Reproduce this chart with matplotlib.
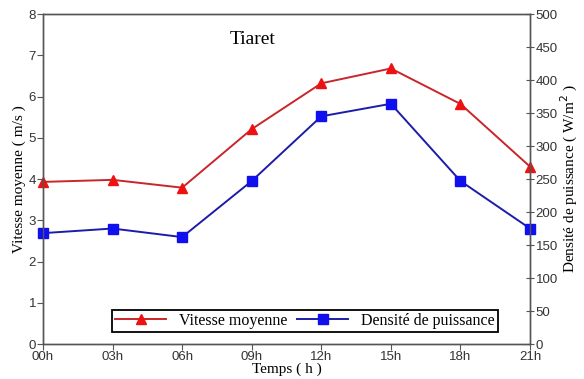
import numpy as np
import matplotlib
matplotlib.use('Agg')
import matplotlib.pyplot as plt

#%% data
heures = ['00h', '03h', '06h', '09h', '12h', '15h', '18h', '21h']
vitesse = [3.93, 3.98, 3.79, 5.21, 6.32, 6.68, 5.82, 4.30]       # m/s
densite = [168, 175, 162, 247, 345, 364, 247, 175]               # W/m2

serif = 'Liberation Serif'
sans = 'Liberation Sans'

#%% figure
fig = plt.figure(figsize=(5.84, 3.79), dpi=100)
ax = fig.add_axes([0.0736, 0.0923, 0.834, 0.8707])
ax2 = ax.twinx()

x = np.arange(len(heures))
l1, = ax.plot(x, vitesse, color='#c8262a', lw=1.4, marker='^', ms=7,
              mfc='#ee1111', mec='#ee1111', label='Vitesse moyenne',
              clip_on=False)
l2, = ax2.plot(x, densite, color='#1c1ca8', lw=1.4, marker='s', ms=6.5,
               mfc='#1010ee', mec='#1010ee', label='Densité de puissance',
               clip_on=False)

ax.set_xlim(0, 7)
ax.set_ylim(0, 8)
ax2.set_ylim(0, 500)
ax.set_xticks(x)
ax.set_xticklabels(heures)
ax.set_yticks(range(0, 9))
ax2.set_yticks(range(0, 501, 50))

for a in (ax, ax2):
    for s in a.spines.values():
        s.set_color('#555555')
        s.set_linewidth(1.0)
    a.tick_params(labelsize=9.5, labelcolor='#333333', color='#555555',
                  length=4, pad=1)
    for lab in a.get_xticklabels() + a.get_yticklabels():
        lab.set_family(sans)
ax2.tick_params(axis='y', direction='inout', length=6)

ax.set_xlabel('Temps ( h )', family=serif, fontsize=11, labelpad=0)
ax.set_ylabel('Vitesse moyenne ( m/s )', family=serif, fontsize=11, labelpad=2)
ax2.set_ylabel('Densité de puissance ( W/m$^2$ )', family=serif, fontsize=11,
               labelpad=1)

ax.text(0.43, 0.95, 'Tiaret', transform=ax.transAxes, family=serif,
        fontsize=14, ha='center', va='top')

leg = ax.legend(handles=[l1, l2], ncol=2, mode='expand',
                bbox_to_anchor=(0.125, 0.012, 0.825, 0.085), loc='lower left',
                prop={'family': serif, 'size': 11.5}, fancybox=False,
                edgecolor='black', framealpha=1, borderpad=0.2,
                handlelength=3.2, columnspacing=1.0)
leg.get_frame().set_linewidth(1.3)
leg.set_zorder(5)

plt.savefig('out.png', dpi=100)
